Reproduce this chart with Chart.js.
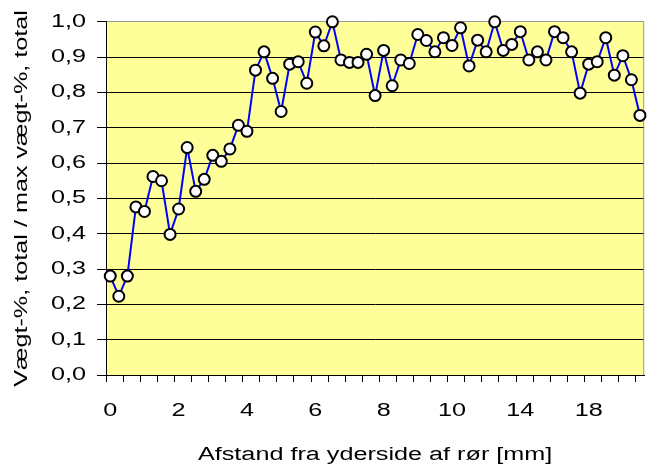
<!DOCTYPE html>
<html>
<head>
<meta charset="utf-8">
<script src="https://cdn.jsdelivr.net/npm/chart.js@4"></script>
<style>
  body { margin: 0; background: #fff; }
  canvas { display: block; }
</style>
</head>
<body>
<canvas id="chart" width="658" height="475"></canvas>
<script>
// distance from the outside of the pipe [mm]
const categories = [
  '0', '0,25', '0,5', '0,75', '1', '1,25', '1,5', '1,75', '2', '2,25', '2,5', '2,75',
  '3', '3,25', '3,5', '3,75', '4', '4,25', '4,5', '4,75', '5', '5,25', '5,5', '5,75',
  '6', '6,25', '6,5', '6,75', '7', '7,25', '7,5', '7,75', '8', '8,25', '8,5', '8,75',
  '9', '9,25', '9,5', '9,75', '10', '10,5', '11', '11,5', '12', '12,5', '13', '13,5',
  '14', '14,5', '15', '15,5', '16', '16,5', '17', '17,5', '18', '18,5', '19', '19,5',
  '20', '20,5', '21'
];

// wt-% total / max wt-% total
const values = [
  0.28, 0.223, 0.28, 0.476, 0.463, 0.562, 0.55, 0.398, 0.47, 0.644,
  0.52, 0.554, 0.622, 0.605, 0.64, 0.707, 0.69, 0.863, 0.915, 0.84,
  0.746, 0.88, 0.887, 0.826, 0.971, 0.932, 1.0, 0.892, 0.885, 0.885,
  0.908, 0.791, 0.919, 0.819, 0.892, 0.882, 0.964, 0.947, 0.915, 0.955,
  0.933, 0.983, 0.875, 0.948, 0.915, 1.0, 0.919, 0.936, 0.972, 0.892,
  0.915, 0.892, 0.972, 0.955, 0.915, 0.798, 0.88, 0.887, 0.955, 0.849,
  0.904, 0.836, 0.735
];

const yTickLabels = ['0,0', '0,1', '0,2', '0,3', '0,4', '0,5', '0,6', '0,7', '0,8', '0,9', '1,0'];

const canvas = document.getElementById('chart');
const ctx = canvas.getContext('2d');

// the original picture has wide, horizontally stretched lettering
const TEXT_STRETCH = 1.4;
ctx.fillText = function (text, x, y) {
  this.save();
  this.translate(x, y);
  this.scale(TEXT_STRETCH, 1);
  CanvasRenderingContext2D.prototype.fillText.call(this, text, 0, 0);
  this.restore();
};

// yellow plot area with grey right edge
const plotArea = {
  id: 'plotArea',
  beforeDraw(chart) {
    const { ctx, chartArea: a } = chart;
    ctx.save();
    ctx.fillStyle = '#FFFF99';
    ctx.fillRect(a.left, a.top, a.right - a.left, a.bottom - a.top);
    ctx.restore();
  },
  beforeDatasetsDraw(chart) {
    const { ctx, chartArea: a } = chart;
    ctx.save();
    ctx.strokeStyle = '#999999';
    ctx.lineWidth = 1;
    ctx.beginPath();
    ctx.moveTo(a.right - 0.5, a.top);
    ctx.lineTo(a.right - 0.5, a.bottom);
    ctx.stroke();
    ctx.restore();
  }
};

Chart.defaults.font.family = '"Liberation Sans", Arial, sans-serif';
Chart.defaults.font.size = 18;
Chart.defaults.color = '#000';

new Chart(ctx, {
  type: 'line',
  data: {
    labels: categories,
    datasets: [{
      data: values,
      borderColor: '#0000FF',
      borderWidth: 2,
      tension: 0,
      pointRadius: 5.5,
      pointHoverRadius: 5.5,
      pointBackgroundColor: '#FFFFFF',
      pointBorderColor: '#000000',
      pointBorderWidth: 2,
      clip: false
    }]
  },
  options: {
    responsive: false,
    animation: false,
    devicePixelRatio: 1,
    layout: {
      padding: { top: 19, right: 1, left: 0, bottom: 0 }
    },
    scales: {
      x: {
        type: 'category',
        offset: true,
        afterFit: (scale) => { scale.height = 100; },
        grid: {
          offset: true,
          drawOnChartArea: false,
          drawTicks: true,
          tickLength: 7,
          color: (c) => (c.index !== undefined && c.index % 2 === 0) ? '#000' : 'rgba(0,0,0,0)'
        },
        border: { color: '#000', width: 1 },
        ticks: {
          autoSkip: false,
          maxRotation: 0,
          padding: 18,
          callback: (value, i) => (i % 8 === 0 ? categories[i] : '')
        },
        title: {
          display: true,
          text: 'Afstand fra yderside af rør [mm]',
          padding: { top: 0, bottom: 9 }
        }
      },
      y: {
        min: 0,
        max: 1,
        afterFit: (scale) => { scale.width = 106; },
        grid: {
          color: (c) => (c.tick && c.tick.value === 1 ? '#999999' : '#000'),
          tickColor: '#000',
          tickLength: 9,
          lineWidth: 1
        },
        border: { color: '#000', width: 1 },
        ticks: {
          stepSize: 0.1,
          padding: 11,
          callback: (value, i) => yTickLabels[i]
        },
        title: {
          display: true,
          text: 'Vægt-%, total / max vægt-%, total',
          padding: { top: 11, bottom: 0 }
        }
      }
    },
    plugins: {
      legend: { display: false },
      tooltip: { enabled: false }
    }
  },
  plugins: [plotArea]
});
</script>
</body>
</html>
